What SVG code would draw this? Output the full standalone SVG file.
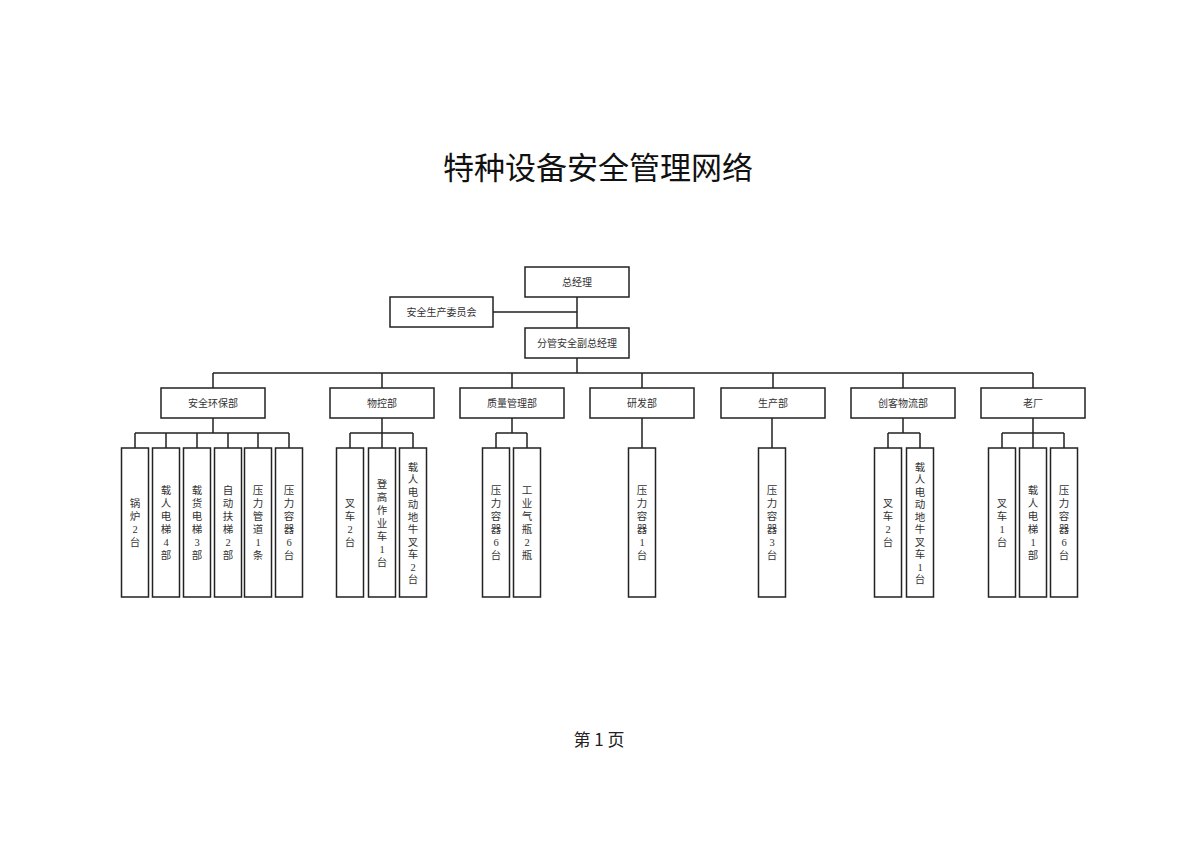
<svg xmlns="http://www.w3.org/2000/svg" width="1200" height="847" viewBox="0 0 1200 847">
<style>
.box{fill:#fff;stroke:#222;stroke-width:1.5}
.ln{stroke:#222;stroke-width:1.5;fill:none}
.t{font-family:"Liberation Serif","Noto Sans CJK SC",serif;font-size:10px;fill:#333;text-anchor:middle;dominant-baseline:central}
.v{font-family:"Liberation Serif","Noto Sans CJK SC",serif;font-size:10.5px;fill:#333;text-anchor:middle;dominant-baseline:central}
</style>
<rect width="1200" height="847" fill="#fff"/>
<text x="598" y="165" font-family="Noto Sans CJK SC, sans-serif" font-size="31" text-anchor="middle" dominant-baseline="central" fill="#111">特种设备安全管理网络</text>
<text x="599" y="738" font-family="Noto Sans CJK SC, sans-serif" font-size="17" text-anchor="middle" dominant-baseline="central" fill="#222" xml:space="preserve">第 1 页</text>

<g id="connectors">
<path class="ln" d="M577 297V328M577 358V373M493 312H577M213 373H1033"/>
<path class="ln" d="M213 373V388M382 373V388M512 373V388M642 373V388M773 373V388M903 373V388M1033 373V388"/>
<path class="ln" d="M213 418V433M135 433H289M135 433V448M166 433V448M197 433V448M228 433V448M258 433V448M289 433V448"/>
<path class="ln" d="M382 418V433M350 433H413M350 433V448M382 433V448M413 433V448"/>
<path class="ln" d="M512 418V433M496 433H527M496 433V448M527 433V448"/>
<path class="ln" d="M642 418V448M772 418V448"/>
<path class="ln" d="M903 418V433M888 433H920M888 433V448M920 433V448"/>
<path class="ln" d="M1033 418V433M1002 433H1064M1002 433V448M1033 433V448M1064 433V448"/>
</g>

<g id="n-gm"><rect class="box" x="525" y="267" width="104" height="30"/><text class="t" x="577" y="282">总经理</text></g>
<g id="n-committee"><rect class="box" x="390" y="297" width="103" height="30"/><text class="t" x="441.5" y="312">安全生产委员会</text></g>
<g id="n-vgm"><rect class="box" x="525" y="328" width="104" height="30"/><text class="t" x="577" y="343">分管安全副总经理</text></g>

<g id="d1"><rect class="box" x="161" y="388" width="104" height="30"/><text class="t" x="213" y="403">安全环保部</text></g>
<g id="d2"><rect class="box" x="330" y="388" width="104" height="30"/><text class="t" x="382" y="403">物控部</text></g>
<g id="d3"><rect class="box" x="460" y="388" width="104" height="30"/><text class="t" x="512" y="403">质量管理部</text></g>
<g id="d4"><rect class="box" x="590" y="388" width="104" height="30"/><text class="t" x="642" y="403">研发部</text></g>
<g id="d5"><rect class="box" x="721" y="388" width="104" height="30"/><text class="t" x="773" y="403">生产部</text></g>
<g id="d6"><rect class="box" x="851" y="388" width="104" height="30"/><text class="t" x="903" y="403">创客物流部</text></g>
<g id="d7"><rect class="box" x="981" y="388" width="104" height="30"/><text class="t" x="1033" y="403">老厂</text></g>

<g id="c1-1"><rect class="box" x="121.5" y="448" width="27" height="149"/><text class="v"><tspan x="135" y="503">锅</tspan><tspan x="135" y="516">炉</tspan><tspan x="135" y="529">2</tspan><tspan x="135" y="542">台</tspan></text></g>
<g id="c1-2"><rect class="box" x="152.5" y="448" width="27" height="149"/><text class="v"><tspan x="166" y="490">载</tspan><tspan x="166" y="503">人</tspan><tspan x="166" y="516">电</tspan><tspan x="166" y="529">梯</tspan><tspan x="166" y="542">4</tspan><tspan x="166" y="555">部</tspan></text></g>
<g id="c1-3"><rect class="box" x="183.5" y="448" width="27" height="149"/><text class="v"><tspan x="197" y="490">载</tspan><tspan x="197" y="503">货</tspan><tspan x="197" y="516">电</tspan><tspan x="197" y="529">梯</tspan><tspan x="197" y="542">3</tspan><tspan x="197" y="555">部</tspan></text></g>
<g id="c1-4"><rect class="box" x="214.5" y="448" width="27" height="149"/><text class="v"><tspan x="228" y="490">自</tspan><tspan x="228" y="503">动</tspan><tspan x="228" y="516">扶</tspan><tspan x="228" y="529">梯</tspan><tspan x="228" y="542">2</tspan><tspan x="228" y="555">部</tspan></text></g>
<g id="c1-5"><rect class="box" x="244.5" y="448" width="27" height="149"/><text class="v"><tspan x="258" y="490">压</tspan><tspan x="258" y="503">力</tspan><tspan x="258" y="516">管</tspan><tspan x="258" y="529">道</tspan><tspan x="258" y="542">1</tspan><tspan x="258" y="555">条</tspan></text></g>
<g id="c1-6"><rect class="box" x="275.5" y="448" width="27" height="149"/><text class="v"><tspan x="289" y="490">压</tspan><tspan x="289" y="503">力</tspan><tspan x="289" y="516">容</tspan><tspan x="289" y="529">器</tspan><tspan x="289" y="542">6</tspan><tspan x="289" y="555">台</tspan></text></g>

<g id="c2-1"><rect class="box" x="336.5" y="448" width="27" height="149"/><text class="v"><tspan x="350" y="503">叉</tspan><tspan x="350" y="516">车</tspan><tspan x="350" y="529">2</tspan><tspan x="350" y="542">台</tspan></text></g>
<g id="c2-2"><rect class="box" x="368.5" y="448" width="27" height="149"/><text class="v"><tspan x="382" y="483.5">登</tspan><tspan x="382" y="496.5">高</tspan><tspan x="382" y="509.5">作</tspan><tspan x="382" y="522.5">业</tspan><tspan x="382" y="535.5">车</tspan><tspan x="382" y="548.5">1</tspan><tspan x="382" y="561.5">台</tspan></text></g>
<g id="c2-3"><rect class="box" x="399.5" y="448" width="27" height="149"/><text class="v"><tspan x="413" y="466.5">载</tspan><tspan x="413" y="479">人</tspan><tspan x="413" y="491.5">电</tspan><tspan x="413" y="504">动</tspan><tspan x="413" y="516.5">地</tspan><tspan x="413" y="529">牛</tspan><tspan x="413" y="541.5">叉</tspan><tspan x="413" y="554">车</tspan><tspan x="413" y="566.5">2</tspan><tspan x="413" y="579">台</tspan></text></g>

<g id="c3-1"><rect class="box" x="482.5" y="448" width="27" height="149"/><text class="v"><tspan x="496" y="490">压</tspan><tspan x="496" y="503">力</tspan><tspan x="496" y="516">容</tspan><tspan x="496" y="529">器</tspan><tspan x="496" y="542">6</tspan><tspan x="496" y="555">台</tspan></text></g>
<g id="c3-2"><rect class="box" x="513.5" y="448" width="27" height="149"/><text class="v"><tspan x="527" y="490">工</tspan><tspan x="527" y="503">业</tspan><tspan x="527" y="516">气</tspan><tspan x="527" y="529">瓶</tspan><tspan x="527" y="542">2</tspan><tspan x="527" y="555">瓶</tspan></text></g>

<g id="c4-1"><rect class="box" x="628.5" y="448" width="27" height="149"/><text class="v"><tspan x="642" y="490">压</tspan><tspan x="642" y="503">力</tspan><tspan x="642" y="516">容</tspan><tspan x="642" y="529">器</tspan><tspan x="642" y="542">1</tspan><tspan x="642" y="555">台</tspan></text></g>
<g id="c5-1"><rect class="box" x="758.5" y="448" width="27" height="149"/><text class="v"><tspan x="772" y="490">压</tspan><tspan x="772" y="503">力</tspan><tspan x="772" y="516">容</tspan><tspan x="772" y="529">器</tspan><tspan x="772" y="542">3</tspan><tspan x="772" y="555">台</tspan></text></g>

<g id="c6-1"><rect class="box" x="874.5" y="448" width="27" height="149"/><text class="v"><tspan x="888" y="503">叉</tspan><tspan x="888" y="516">车</tspan><tspan x="888" y="529">2</tspan><tspan x="888" y="542">台</tspan></text></g>
<g id="c6-2"><rect class="box" x="906.5" y="448" width="27" height="149"/><text class="v"><tspan x="920" y="466.5">载</tspan><tspan x="920" y="479">人</tspan><tspan x="920" y="491.5">电</tspan><tspan x="920" y="504">动</tspan><tspan x="920" y="516.5">地</tspan><tspan x="920" y="529">牛</tspan><tspan x="920" y="541.5">叉</tspan><tspan x="920" y="554">车</tspan><tspan x="920" y="566.5">1</tspan><tspan x="920" y="579">台</tspan></text></g>

<g id="c7-1"><rect class="box" x="988.5" y="448" width="27" height="149"/><text class="v"><tspan x="1002" y="503">叉</tspan><tspan x="1002" y="516">车</tspan><tspan x="1002" y="529">1</tspan><tspan x="1002" y="542">台</tspan></text></g>
<g id="c7-2"><rect class="box" x="1019.5" y="448" width="27" height="149"/><text class="v"><tspan x="1033" y="490">载</tspan><tspan x="1033" y="503">人</tspan><tspan x="1033" y="516">电</tspan><tspan x="1033" y="529">梯</tspan><tspan x="1033" y="542">1</tspan><tspan x="1033" y="555">部</tspan></text></g>
<g id="c7-3"><rect class="box" x="1050.5" y="448" width="27" height="149"/><text class="v"><tspan x="1064" y="490">压</tspan><tspan x="1064" y="503">力</tspan><tspan x="1064" y="516">容</tspan><tspan x="1064" y="529">器</tspan><tspan x="1064" y="542">6</tspan><tspan x="1064" y="555">台</tspan></text></g>
</svg>
